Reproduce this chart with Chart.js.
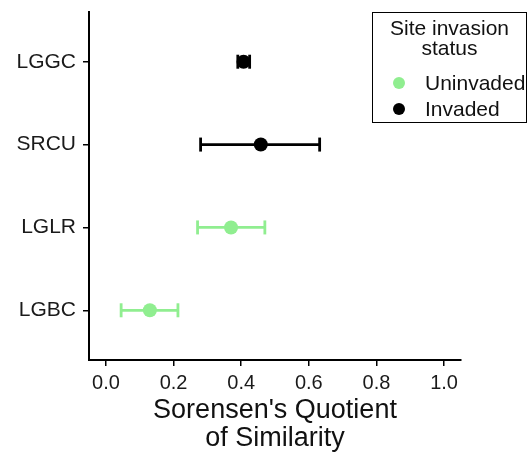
<!DOCTYPE html>
<html lang="en">
<head>
    <meta charset="UTF-8">
    <title>Sorensen's Quotient of Similarity</title>
    <script src="https://cdn.jsdelivr.net/npm/chart.js@4.4.0/dist/chart.umd.min.js"></script>
    <style>
        body {
            margin: 0;
            background-color: white;
            font-family: "Liberation Sans", Arial, sans-serif;
        }
        .wrap {
            position: relative;
            width: 528px;
            height: 453px;
        }
        .legend {
            position: absolute;
            left: 372px;
            top: 12px;
            width: 153px;
            height: 109px;
            border: 1.5px solid #000;
            color: #111;
            font-size: 21px;
        }
        .legend .title {
            text-align: center;
            line-height: 20px;
            margin-top: 5px;
        }
        .legend .item {
            position: absolute;
            left: 0;
            height: 24px;
            line-height: 24px;
        }
        .legend .dot {
            position: absolute;
            left: 20px;
            top: 6px;
            width: 12px;
            height: 12px;
            border-radius: 50%;
        }
        .legend .label {
            position: absolute;
            left: 52px;
            white-space: nowrap;
        }
    </style>
</head>
<body>
    <div class="wrap">
        <canvas id="chart" width="528" height="453"></canvas>
        <div class="legend" id="legend">
            <div class="title">Site invasion<br>status</div>
        </div>
    </div>

    <script>
        // data (bottom to top)
        const sites = ['LGBC', 'LGLR', 'SRCU', 'LGGC'];
        const siteStatus = ['Uninvaded', 'Uninvaded', 'Invaded', 'Invaded'];
        const means = [0.13, 0.37, 0.458, 0.407];
        const lower = [0.045, 0.271, 0.28, 0.39];
        const upper = [0.213, 0.47, 0.632, 0.425];
        const xTicks = [0, 0.2, 0.4, 0.6, 0.8, 1.0];

        const statusNames = ['Uninvaded', 'Invaded'];
        const statusColors = { Uninvaded: '#90EE90', Invaded: '#000000' };

        const datasets = [];

        // error bars
        sites.forEach((site, i) => {
            const c = statusColors[siteStatus[i]];
            datasets.push({
                label: site + ' range',
                data: [{ x: lower[i], y: i + 1 }, { x: upper[i], y: i + 1 }],
                showLine: true,
                borderColor: c,
                borderWidth: 2.8,
                pointStyle: 'line',
                rotation: 90,
                pointRadius: 7,
                pointBorderWidth: 2.8,
                pointBorderColor: c,
                order: 2
            });
        });

        // means
        statusNames.forEach(st => {
            const pts = [];
            sites.forEach((site, i) => {
                if (siteStatus[i] === st) pts.push({ x: means[i], y: i + 1 });
            });
            datasets.push({
                label: st,
                data: pts,
                showLine: false,
                pointRadius: 7,
                backgroundColor: statusColors[st],
                borderColor: statusColors[st],
                borderWidth: 0,
                order: 1
            });
        });

        const fam = '"Liberation Sans", Arial, sans-serif';

        new Chart(document.getElementById('chart'), {
            type: 'scatter',
            data: { datasets: datasets },
            options: {
                responsive: false,
                animation: false,
                layout: { padding: { top: 12, right: 67, left: 0, bottom: 0 } },
                plugins: {
                    legend: { display: false },
                    tooltip: { enabled: false }
                },
                scales: {
                    x: {
                        type: 'linear',
                        min: -0.05,
                        max: 1.05,
                        afterBuildTicks: scale => {
                            scale.ticks = xTicks.map(v => ({ value: v }));
                        },
                        afterFit: scale => { scale.height = 93; },
                        ticks: {
                            color: '#1a1a1a',
                            font: { family: fam, size: 20 },
                            padding: 5,
                            maxRotation: 0,
                            autoSkip: false,
                            callback: v => v.toFixed(1)
                        },
                        grid: {
                            drawOnChartArea: false,
                            drawTicks: true,
                            tickLength: 6,
                            color: '#000',
                            lineWidth: 1.5
                        },
                        border: { display: true, color: '#000', width: 2 },
                        title: {
                            display: true,
                            text: ["Sorensen's Quotient", 'of Similarity'],
                            color: '#111',
                            font: { family: fam, size: 27, lineHeight: 1.03 },
                            padding: { top: 0, bottom: 1 }
                        }
                    },
                    y: {
                        type: 'linear',
                        min: 0.4,
                        max: 4.6,
                        afterBuildTicks: scale => {
                            scale.ticks = sites.map((s, i) => ({ value: i + 1 }));
                        },
                        afterFit: scale => {
                            scale.width = 89;
                            scale.paddingTop = 0;
                            scale.paddingBottom = 0;
                        },
                        ticks: {
                            color: '#1a1a1a',
                            font: { family: fam, size: 21 },
                            padding: 7,
                            callback: v => sites[v - 1]
                        },
                        grid: {
                            drawOnChartArea: false,
                            drawTicks: true,
                            tickLength: 6,
                            color: '#000',
                            lineWidth: 1.5
                        },
                        border: { display: true, color: '#000', width: 2 }
                    }
                }
            }
        });

        // legend box
        const legend = document.getElementById('legend');
        statusNames.forEach((st, k) => {
            const item = document.createElement('div');
            item.className = 'item';
            item.style.top = (58 + k * 26) + 'px';
            item.innerHTML = '<span class="dot" style="background:' + statusColors[st] + '"></span>' +
                '<span class="label">' + st + '</span>';
            legend.appendChild(item);
        });
    </script>
</body>
</html>
